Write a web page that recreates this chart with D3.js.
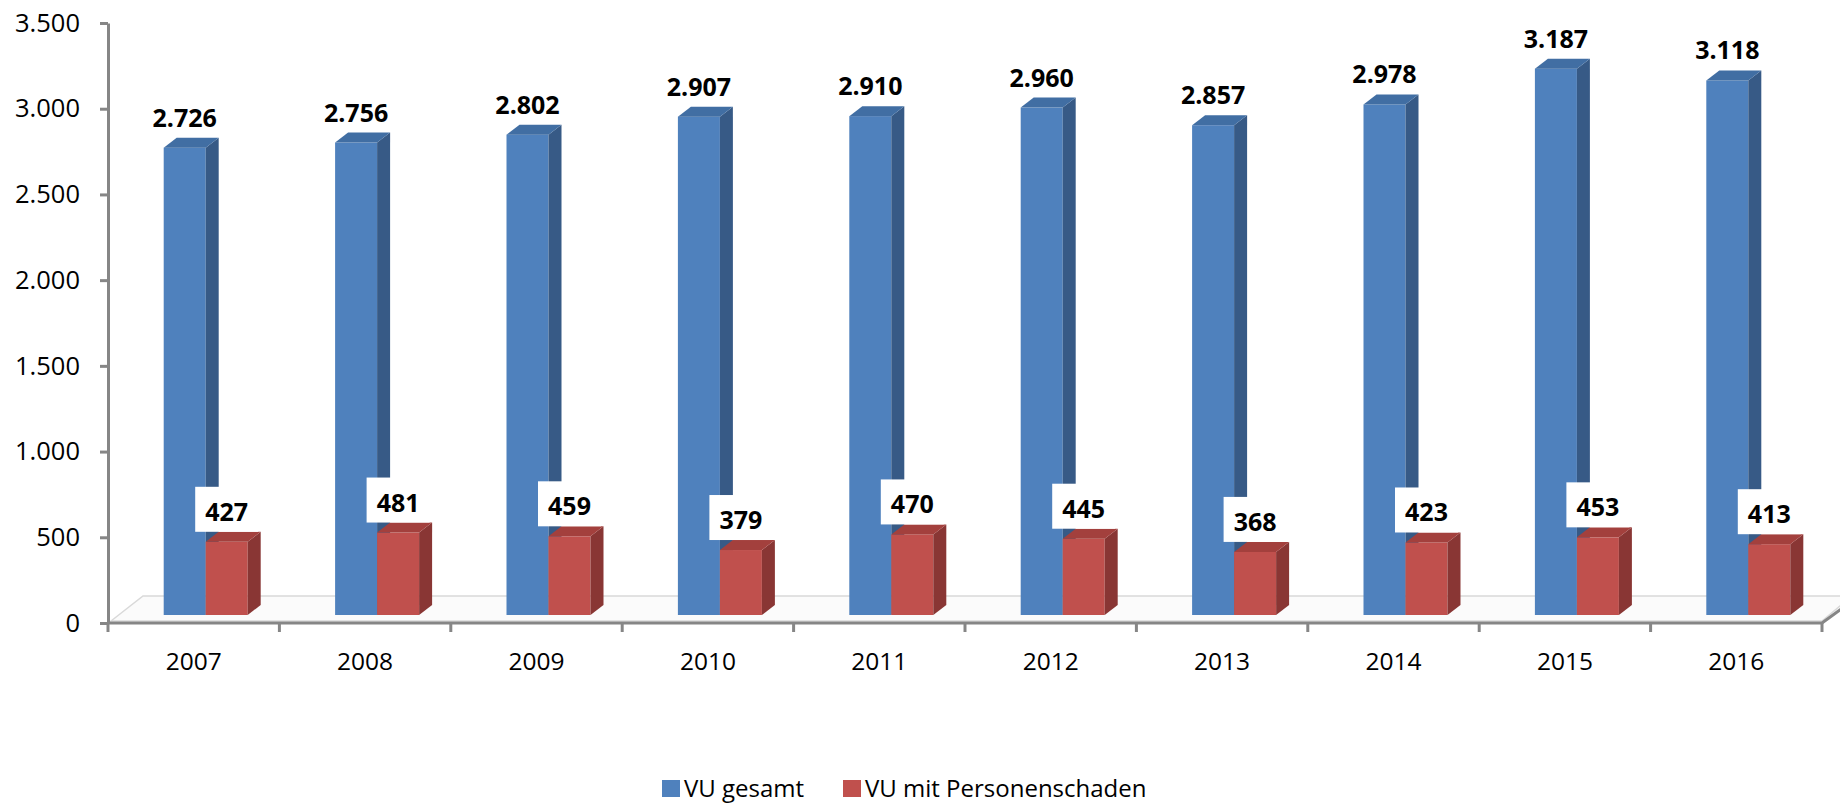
<!DOCTYPE html>
<html lang="de">
<head>
  <meta charset="UTF-8">
  <title>VU 2007-2016</title>
  <script src="https://d3js.org/d3.v7.min.js"></script>
  <style>
    body { margin: 0; background: #fff; }
    .axis path, .axis line { stroke: #868686; stroke-width: 3; fill: none; }
    .axis text { font-family: "Open Sans", sans-serif; fill: #000; }
    .val { font-family: "Open Sans", sans-serif; font-weight: bold; font-size: 25px; fill: #000; }
    .legend text { font-family: "Open Sans", sans-serif; font-size: 24px; fill: #000; }
  </style>
</head>
<body>
  <svg width="1840" height="804"></svg>
  <script>
    // data
    const years = ["2007", "2008", "2009", "2010", "2011", "2012", "2013", "2014", "2015", "2016"];
    const gesamt = [2726, 2756, 2802, 2907, 2910, 2960, 2857, 2978, 3187, 3118];
    const personen = [427, 481, 459, 379, 470, 445, 368, 423, 453, 413];
    const yTicks = [0, 500, 1000, 1500, 2000, 2500, 3000, 3500];
    const seriesNames = ["VU gesamt", "VU mit Personenschaden"];

    const colors = {
      blue: { front: "#4f81bd", side: "#375a86", top: "#416ea3" },
      red:  { front: "#c0504d", side: "#893634", top: "#a3403d" }
    };

    const de = d3.formatLocale({ decimal: ",", thousands: ".", grouping: [3], currency: ["", " €"] });
    const fmt = de.format(",d");

    const svg = d3.select("svg");
    const left = 108, right = 1822, zeroY = 623, topY = 23;

    const x = d3.scaleBand().domain(years).range([left, right]).padding(0);
    const y = d3.scaleLinear().domain([0, 3500]).range([zeroY, topY]);

    // 3d depth offsets
    const dx = 13, dy = -10, lift = 8, barW = 42, shift = 12;

    // floor
    svg.append("polygon")
      .attr("points", [[111, 621], [143, 596], [1852, 596], [1822, 621]].map(p => p.join(",")).join(" "))
      .attr("fill", "#fbfbfb")
      .attr("stroke", "#d9d9d9")
      .attr("stroke-width", 1.5);

    // y axis
    const yAxis = svg.append("g")
      .attr("class", "axis")
      .attr("transform", `translate(${left},0)`)
      .call(d3.axisLeft(y).tickValues(yTicks).tickSize(8).tickSizeOuter(0).tickPadding(20).tickFormat(fmt));
    yAxis.selectAll("text").style("font-size", "25.5px");

    // x axis line, boundary ticks, labels
    const xg = svg.append("g").attr("class", "axis");
    xg.append("path").attr("d", `M${left},${zeroY}H${right}L${right + 34},${zeroY - 25}`);
    xg.selectAll("line.bt")
      .data(years.map(d => x(d)).concat([right]))
      .join("line")
      .attr("class", "bt")
      .attr("x1", d => d).attr("x2", d => d)
      .attr("y1", zeroY).attr("y2", zeroY + 9);
    xg.selectAll("text.yr")
      .data(years)
      .join("text")
      .attr("class", "yr")
      .attr("x", d => x(d) + x.bandwidth() / 2)
      .attr("y", 670)
      .attr("text-anchor", "middle")
      .style("font-size", "24.5px")
      .text(d => d);

    // draws one 3d column
    function column(g, x0, v, c) {
      const yt = y(v) - lift, yb = zeroY - lift;
      g.append("rect").attr("x", x0).attr("y", yt).attr("width", barW).attr("height", yb - yt).attr("fill", c.front);
      g.append("polygon")
        .attr("points", [[x0 + barW, yt], [x0 + barW + dx, yt + dy], [x0 + barW + dx, yb + dy], [x0 + barW, yb]].join(" "))
        .attr("fill", c.side);
      g.append("polygon")
        .attr("points", [[x0, yt], [x0 + dx, yt + dy], [x0 + barW + dx, yt + dy], [x0 + barW, yt]].join(" "))
        .attr("fill", c.top);
    }

    const bars = svg.append("g");
    years.forEach((yr, i) => {
      const cx = x(yr) + x.bandwidth() / 2 + shift;
      const g = bars.append("g");
      column(g, cx - barW, gesamt[i], colors.blue);
      column(g, cx, personen[i], colors.red);
    });

    // labels
    const labels = svg.append("g");
    years.forEach((yr, i) => {
      const cx = x(yr) + x.bandwidth() / 2 + shift;
      labels.append("text")
        .attr("class", "val")
        .attr("x", cx - barW / 2)
        .attr("y", y(gesamt[i]) - lift + dy - 11)
        .attr("text-anchor", "middle")
        .text(fmt(gesamt[i]));
      const bBottom = y(personen[i]) - lift + dy;
      labels.append("rect")
        .attr("x", cx + barW / 2 - 31.5)
        .attr("y", bBottom - 45)
        .attr("width", 63)
        .attr("height", 45)
        .attr("fill", "#fff");
      labels.append("text")
        .attr("class", "val")
        .attr("x", cx + barW / 2)
        .attr("y", bBottom - 11)
        .attr("text-anchor", "middle")
        .text(fmt(personen[i]));
    });

    // legend
    const legend = svg.append("g").attr("class", "legend");
    const legX = [662, 843];
    const legC = [colors.blue.front, colors.red.front];
    seriesNames.forEach((n, i) => {
      legend.append("rect").attr("x", legX[i]).attr("y", 780).attr("width", 18).attr("height", 17).attr("fill", legC[i]);
      legend.append("text").attr("x", legX[i] + 22).attr("y", 797).text(n);
    });
  </script>
</body>
</html>
